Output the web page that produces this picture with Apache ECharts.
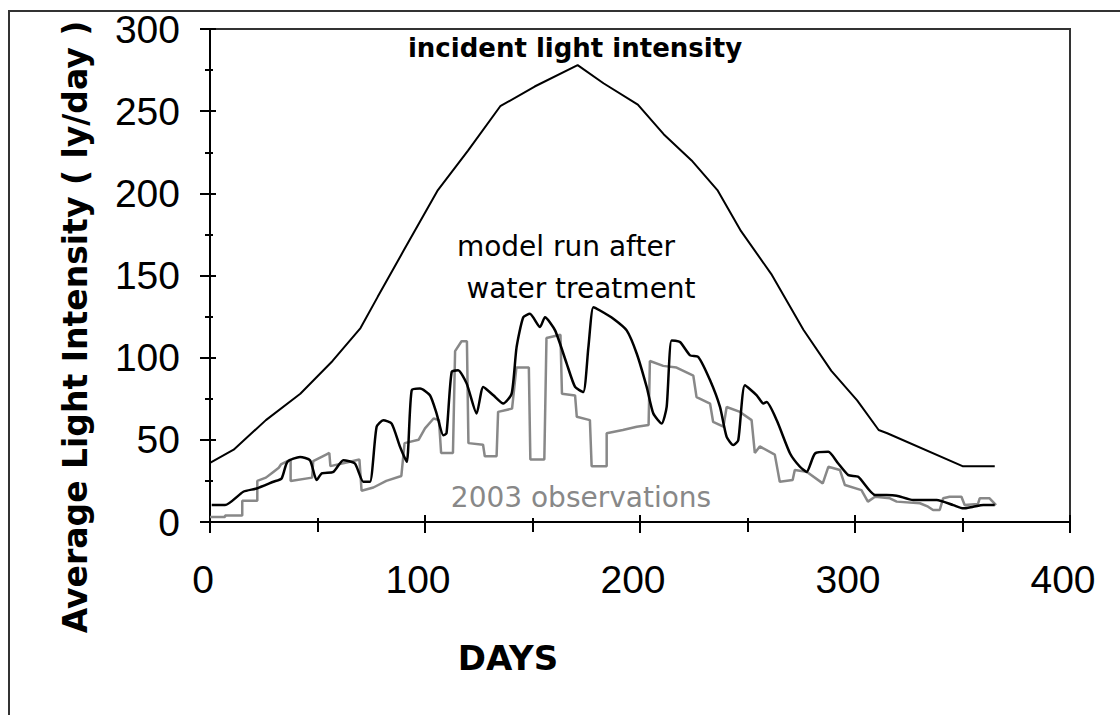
<!DOCTYPE html>
<html>
<head>
<meta charset="utf-8">
<script src="https://cdn.jsdelivr.net/npm/echarts@6/dist/echarts.min.js"></script>
<style>
html,body{margin:0;padding:0;background:#fff;}
#chart{width:1120px;height:715px;}
</style>
</head>
<body>
<div id="chart"></div>
<script>
// ---- data (days, ly/day) ----
var incidentDay = [0, 11, 26, 42, 57, 70, 78, 90, 106, 120, 135, 151, 171, 183, 199, 211, 224, 236, 247, 261, 276, 289, 301, 311, 315, 350, 365];
var incidentVal = [36, 44, 62, 78, 98, 118, 137, 165, 202, 226, 253, 265, 278, 267, 254, 236, 220, 202, 177, 151, 117, 92, 74, 56, 54, 34, 34];

var modelDay = [0.8, 7, 15.5, 21.7, 29.5, 33.3, 36, 41.9, 46.5, 49.6, 52, 57.4, 62, 67.4, 71.3, 74.4, 77.5, 80.6, 84.5, 88.4, 91.5, 93.8, 97.7, 102.3, 105.4, 108.5, 110, 112.4, 115.4, 119.4, 124, 127.1, 131.8, 136.4, 140.3, 142.6, 145.7, 148.8, 153.5, 155.8, 160.5, 165.9, 169.8, 173.6, 176, 178.3, 181.4, 187.6, 193.8, 198.5, 203.1, 206.2, 210.1, 212.4, 214.7, 218.6, 223.3, 227.1, 232.6, 237.2, 240.3, 243.4, 245.7, 248.8, 254.3, 257.4, 258.9, 263.6, 269.8, 274.4, 277.5, 281.4, 287.6, 292.2, 296.9, 301.5, 309.3, 314.7, 319.4, 327.1, 338, 345.7, 350.4, 355, 359.7, 365];
var modelVal = [10.3, 10.3, 18.4, 20.4, 24.5, 26.5, 36.6, 39.6, 37.6, 25.5, 29.6, 30.5, 37.6, 35.6, 24.5, 24.5, 57.9, 61.9, 59.9, 45.7, 36.6, 80.1, 81.2, 77.1, 66, 52.8, 53.9, 91.3, 92.3, 84.2, 66, 82.2, 77.1, 72.1, 78.1, 106.4, 124.6, 126.7, 118.6, 124.6, 116.6, 96.4, 82.2, 79.1, 106.4, 130.7, 128.7, 123.7, 116.6, 102.4, 82.2, 66, 59.9, 70, 110.5, 109.5, 101.4, 100.4, 86.2, 70, 51.8, 46.8, 49.8, 83.2, 77.1, 72.1, 73, 61.9, 41.7, 33.6, 30.5, 41.7, 42.7, 35.6, 28.5, 27.5, 16.4, 16.4, 16, 13.4, 13.4, 10.3, 8.3, 9.3, 10.3, 10.3];

var obsDay = [0, 7, 7, 15, 15, 22, 22, 26, 29, 32, 33, 36, 37.5, 37.5, 47.5, 48, 54, 55.5, 56, 63, 69.5, 70.5, 76, 82, 89, 90.5, 97, 100, 104, 106.5, 107.5, 113, 114, 117, 119.5, 120.2, 127, 127.8, 133.3, 134, 140.5, 142.5, 148.3, 149, 155.5, 156.5, 163, 163.7, 169.8, 170.6, 176.7, 177.5, 184.5, 184.5, 192, 198.5, 204, 204.6, 210.8, 217, 224.8, 226.3, 232.6, 234, 238.8, 240.3, 246.5, 251.9, 253.4, 255.7, 262.7, 265, 271, 272, 277.5, 285, 287.6, 293, 295.3, 303, 306, 309.3, 316.2, 319.4, 330.2, 334, 336.3, 339.4, 341, 344, 349.5, 351, 357.2, 358, 362.6, 365.6];
var obsVal = [3, 3, 4, 4, 13, 13, 25, 27, 30, 33, 35, 37, 38, 25, 27, 37, 41, 42, 34, 36, 38, 19, 21, 25, 28, 48, 50, 57, 63, 62, 42, 42, 104, 110, 110, 48, 47, 40, 40, 67, 69, 94, 94, 38, 38, 112, 114, 78, 77, 64, 62, 34, 34, 54, 56, 58, 59, 98, 95, 94, 89, 76, 72, 61, 58, 70, 67, 62, 42, 46, 41, 24.5, 25.5, 31.6, 30.6, 23.5, 33.6, 31.6, 22.5, 19.4, 12.4, 15.4, 14.4, 12.4, 11.4, 9.3, 7.3, 7.3, 14.4, 15.4, 15.4, 10.3, 11, 14.4, 14.4, 10.3];

var xTicks = [0, 100, 200, 300, 400];
var yTicks = [0, 50, 100, 150, 200, 250, 300];

function pairs(a, b) { return a.map(function (d, i) { return [d, b[i]]; }); }

var chart = echarts.init(document.getElementById('chart'), null, { renderer: 'svg' });

var tickFont = { fontFamily: 'Liberation Sans', fontSize: 39, color: '#000' };

chart.setOption({
  backgroundColor: '#fff',
  animation: false,
  grid: { left: 210, right: 50, top: 29, bottom: 193, show: true, borderColor: '#333', borderWidth: 2, backgroundColor: 'transparent' },
  xAxis: [{
    type: 'value', position: 'bottom', min: xTicks[0], max: xTicks[xTicks.length - 1], interval: 100,
    axisLine: { show: true, onZero: false, lineStyle: { color: '#000', width: 2 } },
    axisTick: { show: true, inside: false, length: 11, lineStyle: { color: '#000', width: 2 } },
    minorTick: { show: true, splitNumber: 2, length: 10, lineStyle: { color: '#000', width: 2 } },
    splitLine: { show: false },
    axisLabel: Object.assign({ margin: 38, padding: [0, 14, 0, 0] }, tickFont)
  }, {
    type: 'value', position: 'bottom', min: xTicks[0], max: xTicks[xTicks.length - 1], interval: 100,
    axisLine: { show: false },
    axisTick: { show: true, inside: true, length: 7, lineStyle: { color: '#000', width: 2 } },
    minorTick: { show: true, splitNumber: 2, length: 4, lineStyle: { color: '#000', width: 2 } },
    splitLine: { show: false }, axisLabel: { show: false }
  }],
  yAxis: [{
    type: 'value', position: 'left', min: yTicks[0], max: yTicks[yTicks.length - 1], interval: 50,
    axisLine: { show: true, onZero: false, lineStyle: { color: '#000', width: 2 } },
    axisTick: { show: true, inside: false, length: 10, lineStyle: { color: '#000', width: 2 } },
    minorTick: { show: true, splitNumber: 2, length: 5, lineStyle: { color: '#000', width: 2 } },
    splitLine: { show: false },
    axisLabel: Object.assign({ margin: 30 }, tickFont)
  }, {
    type: 'value', position: 'left', min: yTicks[0], max: yTicks[yTicks.length - 1], interval: 50,
    axisLine: { show: false },
    axisTick: { show: true, inside: true, length: 6, lineStyle: { color: '#000', width: 2 } },
    minorTick: { show: true, splitNumber: 2, length: 3, lineStyle: { color: '#000', width: 2 } },
    splitLine: { show: false }, axisLabel: { show: false }
  }],
  series: [{
    name: 'incident light intensity', type: 'line', xAxisIndex: 0, yAxisIndex: 0,
    data: pairs(incidentDay, incidentVal), showSymbol: false, symbol: 'none',
    lineStyle: { color: '#000', width: 2 }, z: 3
  }, {
    name: '2003 observations', type: 'line', xAxisIndex: 0, yAxisIndex: 0,
    data: pairs(obsDay, obsVal), showSymbol: false, symbol: 'none',
    lineStyle: { color: '#888', width: 2.5 }, z: 2
  }, {
    name: 'model run after water treatment', type: 'line', xAxisIndex: 0, yAxisIndex: 0,
    data: pairs(modelDay, modelVal), showSymbol: false, symbol: 'none', smooth: 0.2,
    lineStyle: { color: '#000', width: 2.5 }, z: 4
  }],
  graphic: [
    { type: 'polyline', shape: { points: [[9, 715], [9, 11], [1120, 11]] }, style: { stroke: '#333', lineWidth: 2, fill: null }, silent: true },
    { type: 'text', x: 75, y: 327, rotation: Math.PI / 2,
      style: { text: 'Average Light Intensity ( ly/day )', font: 'bold 33px "DejaVu Sans"', fill: '#000', textAlign: 'center', textVerticalAlign: 'middle' } },
    { type: 'text', x: 508, y: 658,
      style: { text: 'DAYS', font: 'bold 34px "DejaVu Sans"', fill: '#000', textAlign: 'center', textVerticalAlign: 'middle' } },
    { type: 'text', x: 575, y: 48,
      style: { text: 'incident light intensity', font: 'bold 26px "DejaVu Sans"', fill: '#000', textAlign: 'center', textVerticalAlign: 'middle' } },
    { type: 'text', x: 566, y: 246,
      style: { text: 'model run after', font: '28px "DejaVu Sans"', fill: '#000', textAlign: 'center', textVerticalAlign: 'middle' } },
    { type: 'text', x: 581, y: 288,
      style: { text: 'water treatment', font: '28px "DejaVu Sans"', fill: '#000', textAlign: 'center', textVerticalAlign: 'middle' } },
    { type: 'text', x: 581, y: 497,
      style: { text: '2003 observations', font: '28px "DejaVu Sans"', fill: '#888', textAlign: 'center', textVerticalAlign: 'middle' } }
  ]
});
</script>
</body>
</html>
